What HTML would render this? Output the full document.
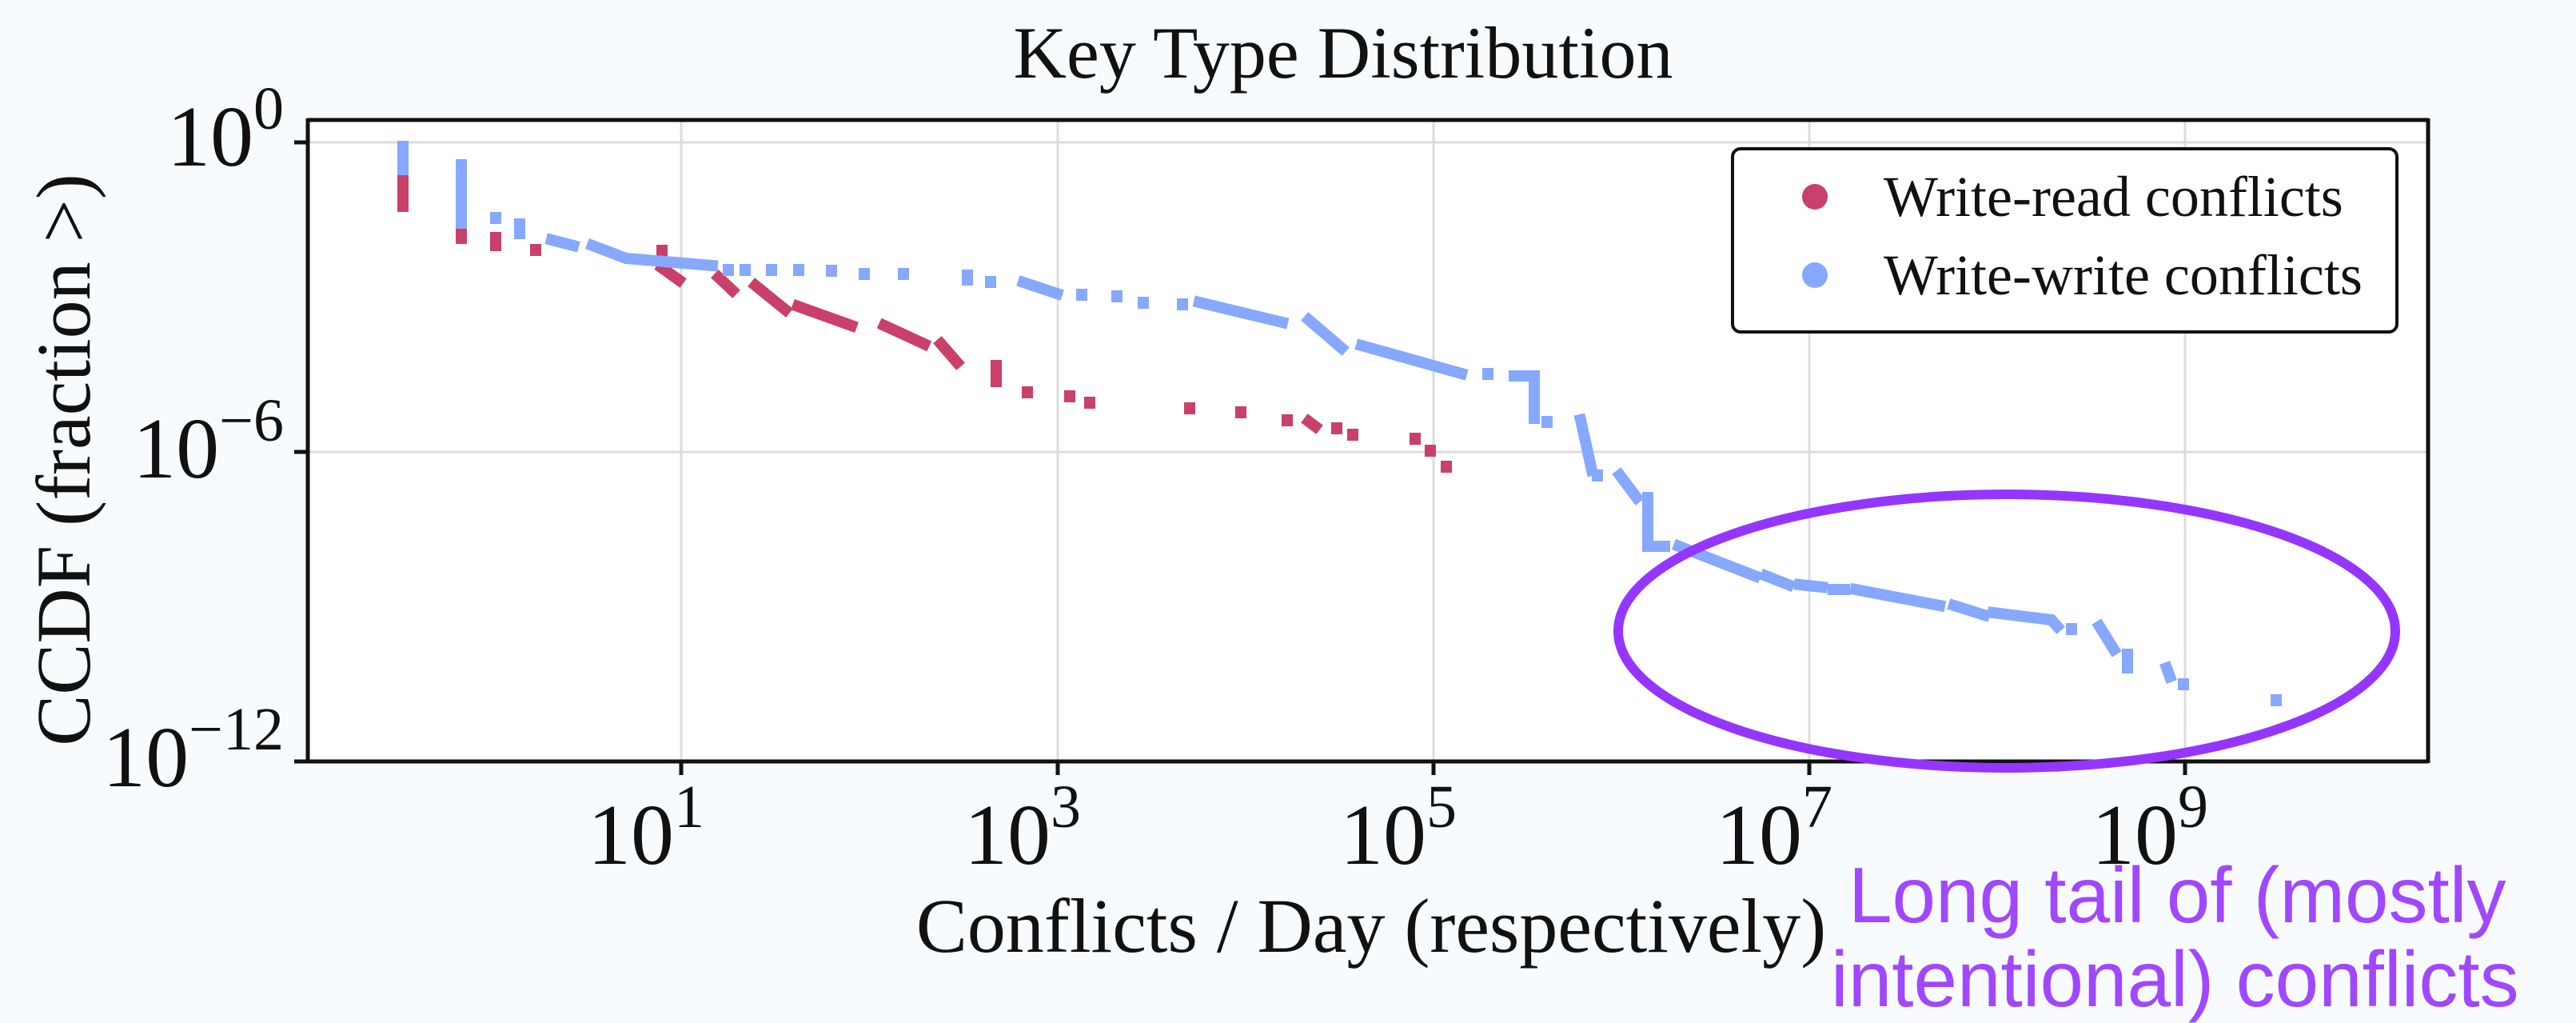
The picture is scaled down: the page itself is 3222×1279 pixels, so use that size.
<!DOCTYPE html>
<html><head><meta charset="utf-8"><style>
html,body{margin:0;padding:0;background:#f7fbfe;}
svg{display:block}
</style></head><body>
<svg width="3222" height="1279" viewBox="0 0 3222 1279" xmlns="http://www.w3.org/2000/svg">
<rect x="0" y="0" width="3222" height="1279" fill="#f7fbfe"/>
<rect x="385" y="150" width="2652" height="802" fill="#ffffff"/>
<g stroke="#dcdcdc" stroke-width="3">
<line x1="852" y1="150" x2="852" y2="952"/><line x1="1323" y1="150" x2="1323" y2="952"/>
<line x1="1793" y1="150" x2="1793" y2="952"/><line x1="2263" y1="150" x2="2263" y2="952"/>
<line x1="2733" y1="150" x2="2733" y2="952"/>
<line x1="385" y1="178" x2="3037" y2="178"/><line x1="385" y1="565" x2="3037" y2="565"/>
</g>
<g fill="none" stroke-linecap="square" stroke-linejoin="miter" stroke-width="14">
<path stroke="#c9406a" d="M504,215L504,258 M577,281L577,298 M620,297L620,307 M670,312l0,1 M828,313l0,1 M828,335L849,350 M899,347L916,363 M945,357L982,387 M998,383L1065,407 M1106,407L1156,430 M1177,430L1197,453 M1246,457L1246,477 M1285,490l0,1 M1338,495l0,1 M1363,503l0,1 M1488,510l0,1 M1552,515l0,1 M1610,525l0,1 M1637,527L1645,533 M1672,535l0,1 M1692,543l0,1 M1770,548l0,1 M1789,563l0,1 M1809,583l0,1"/>
<path stroke="#86a8ff" d="M504,183L504,212 M577,206L577,279 M620,272l0,1 M650,280L650,292 M690,300L717,307 M741,307L783,323 L891,332 M911,337l0,1 M932,337l0,1 M965,337l0,1 M999,337l0,1 M1040,338l0,1 M1081,342l0,1 M1130,342l0,1 M1210,344L1210,350 M1239,352l0,1 M1280,353L1322,367 M1353,368l0,1 M1397,370l0,1 M1430,378l0,1 M1479,380l0,1 M1500,378L1604,403 M1637,400L1678,435 M1703,432L1828,467 M1861,467l0,1 M1894,470L1919,470 L1919,523 M1935,527l0,1 M1977,525L1991,588 M1998,594l0,1 M2026,594L2047,622 M2061,622L2061,683 L2082,683 M2100,683L2195,720 M2209,720L2237,731 M2251,731L2279,734 M2293,737L2307,737 M2321,737L2426,757 M2444,757L2482,769 M2493,766L2566,775 L2573,783 M2591,786l0,1 M2626,783L2644,812 M2661,818L2661,835 M2710,835L2714,846 M2731,855l0,1 M2847,875l0,1"/>
</g>
<g stroke="#111" stroke-width="5" fill="none">
<polyline points="385,150 3037,150"/>
<polyline points="385,148 385,954"/>
<polyline points="383,952 3037,952"/>
<polyline points="3037,148 3037,954"/>
<line x1="368" y1="178" x2="385" y2="178"/><line x1="368" y1="565" x2="385" y2="565"/><line x1="368" y1="952" x2="385" y2="952"/>
<line x1="852" y1="952" x2="852" y2="969"/><line x1="1323" y1="952" x2="1323" y2="969"/><line x1="1793" y1="952" x2="1793" y2="969"/><line x1="2263" y1="952" x2="2263" y2="969"/><line x1="2733" y1="952" x2="2733" y2="969"/>
</g>
<g font-family="'Liberation Serif',serif" fill="#111">
<text x="1680" y="97" font-size="92" text-anchor="middle">Key Type Distribution</text>
<text x="1715" y="1190" font-size="96" text-anchor="middle">Conflicts / Day (respectively)</text>
<text transform="translate(112,575) rotate(-90)" font-size="96" text-anchor="middle">CCDF (fraction &gt;)</text>
<g font-size="108" text-anchor="end">
<text x="355" y="207">10<tspan font-size="76" dy="-46">0</tspan></text>
<text x="355" y="597">10<tspan font-size="76" dy="-46">−6</tspan></text>
<text x="355" y="983">10<tspan font-size="76" dy="-46">−12</tspan></text>
</g>
<g font-size="108">
<text x="735" y="1080">10<tspan font-size="76" dy="-46">1</tspan></text>
<text x="1206" y="1080">10<tspan font-size="76" dy="-46">3</tspan></text>
<text x="1676" y="1080">10<tspan font-size="76" dy="-46">5</tspan></text>
<text x="2146" y="1080">10<tspan font-size="76" dy="-46">7</tspan></text>
<text x="2616" y="1080">10<tspan font-size="76" dy="-46">9</tspan></text>
</g>
<rect x="2167" y="186" width="831" height="229" rx="10" fill="#fff" stroke="#111" stroke-width="4"/>
<circle cx="2270" cy="246" r="16" fill="#c9406a"/>
<circle cx="2270" cy="344" r="16" fill="#86a8ff"/>
<text x="2356" y="270" font-size="72">Write-read conflicts</text>
<text x="2356" y="368" font-size="72">Write-write conflicts</text>
</g>
<ellipse cx="2510" cy="789" rx="486" ry="171" fill="none" stroke="#9436ff" stroke-width="12"/>
<g font-family="'Liberation Sans',sans-serif" fill="#a047ff" font-size="98">
<text x="2312" y="1153">Long tail of (mostly</text>
<text x="2290" y="1258">intentional) conflicts</text>
</g>
</svg>
</body></html>
